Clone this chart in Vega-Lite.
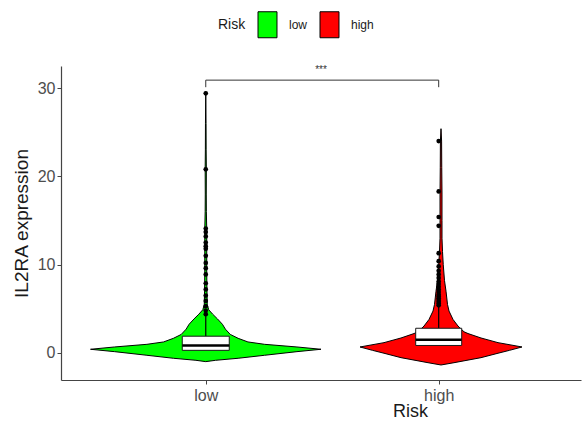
{
  "$schema": "https://vega.github.io/schema/vega-lite/v6.json",
  "background": "white",
  "padding": {"left": 12, "top": 11, "right": 5, "bottom": 5},
  "width": 520,
  "height": 314,
  "config": {
    "view": {"stroke": null},
    "font": "Liberation Sans",
    "axis": {"grid": false, "domainColor": "#444444", "domainWidth": 1.2, "tickColor": "#444444", "tickSize": 4, "labelColor": "#4d4d4d", "labelFontSize": 16, "titleFontSize": 18, "titleFontWeight": "normal", "titleColor": "#1a1a1a", "labelFont": "Liberation Sans", "titleFont": "Liberation Sans"}
  },
  "datasets": {
    "violin": [
      {"Risk": "low", "value": -0.98, "density": 0},
      {"Risk": "low", "value": -0.83, "density": 20},
      {"Risk": "low", "value": -0.6, "density": 66},
      {"Risk": "low", "value": -0.26, "density": 120},
      {"Risk": "low", "value": 0.15, "density": 186},
      {"Risk": "low", "value": 0.42, "density": 235},
      {"Risk": "low", "value": 0.68, "density": 186},
      {"Risk": "low", "value": 0.98, "density": 120},
      {"Risk": "low", "value": 1.25, "density": 86},
      {"Risk": "low", "value": 1.66, "density": 66},
      {"Risk": "low", "value": 2.1, "density": 50},
      {"Risk": "low", "value": 2.7, "density": 40},
      {"Risk": "low", "value": 3.25, "density": 34},
      {"Risk": "low", "value": 3.85, "density": 24},
      {"Risk": "low", "value": 4.4, "density": 14},
      {"Risk": "low", "value": 4.9, "density": 6},
      {"Risk": "low", "value": 5.5, "density": 3},
      {"Risk": "low", "value": 7, "density": 2.5},
      {"Risk": "low", "value": 9, "density": 2},
      {"Risk": "low", "value": 11, "density": 2},
      {"Risk": "low", "value": 13, "density": 2},
      {"Risk": "low", "value": 14, "density": 2},
      {"Risk": "low", "value": 16, "density": 1.2},
      {"Risk": "low", "value": 18, "density": 1},
      {"Risk": "low", "value": 20.8, "density": 1.2},
      {"Risk": "low", "value": 23, "density": 0.8},
      {"Risk": "low", "value": 26, "density": 0.6},
      {"Risk": "low", "value": 29.6, "density": 0},
      {"Risk": "high", "value": -1.36, "density": 0},
      {"Risk": "high", "value": -1.1, "density": 26},
      {"Risk": "high", "value": -0.53, "density": 80},
      {"Risk": "high", "value": -0.03, "density": 114},
      {"Risk": "high", "value": 0.3, "density": 137},
      {"Risk": "high", "value": 0.68, "density": 162},
      {"Risk": "high", "value": 1.17, "density": 114},
      {"Risk": "high", "value": 1.7, "density": 80},
      {"Risk": "high", "value": 2.2, "density": 54},
      {"Risk": "high", "value": 2.4, "density": 46},
      {"Risk": "high", "value": 3.05, "density": 34},
      {"Risk": "high", "value": 3.8, "density": 24},
      {"Risk": "high", "value": 4.75, "density": 16},
      {"Risk": "high", "value": 5.5, "density": 13},
      {"Risk": "high", "value": 7, "density": 10},
      {"Risk": "high", "value": 8.2, "density": 7},
      {"Risk": "high", "value": 10, "density": 4.5},
      {"Risk": "high", "value": 11.5, "density": 3},
      {"Risk": "high", "value": 13, "density": 2},
      {"Risk": "high", "value": 15, "density": 2},
      {"Risk": "high", "value": 18, "density": 2},
      {"Risk": "high", "value": 21, "density": 1.5},
      {"Risk": "high", "value": 24, "density": 1.2},
      {"Risk": "high", "value": 25.4, "density": 0}
    ],
    "box": [
      {"Risk": "low", "q1": 0.3, "median": 0.85, "q3": 1.9, "upper": 4.2},
      {"Risk": "high", "q1": 0.85, "median": 1.5, "q3": 2.8, "upper": 5.4}
    ],
    "outliers": [
      {"Risk": "low", "value": 29.4}, {"Risk": "low", "value": 20.8}, {"Risk": "low", "value": 14.1},
      {"Risk": "low", "value": 13.7}, {"Risk": "low", "value": 13.2}, {"Risk": "low", "value": 12.5},
      {"Risk": "low", "value": 12.1}, {"Risk": "low", "value": 11.8}, {"Risk": "low", "value": 11.0},
      {"Risk": "low", "value": 10.2}, {"Risk": "low", "value": 9.6}, {"Risk": "low", "value": 8.9},
      {"Risk": "low", "value": 7.9}, {"Risk": "low", "value": 7.2}, {"Risk": "low", "value": 6.5},
      {"Risk": "low", "value": 5.9}, {"Risk": "low", "value": 5.3}, {"Risk": "low", "value": 4.8},
      {"Risk": "low", "value": 4.4},
      {"Risk": "high", "value": 24.0}, {"Risk": "high", "value": 18.3}, {"Risk": "high", "value": 15.4},
      {"Risk": "high", "value": 14.4}, {"Risk": "high", "value": 11.3}, {"Risk": "high", "value": 10.4},
      {"Risk": "high", "value": 9.8}, {"Risk": "high", "value": 9.3}, {"Risk": "high", "value": 8.9},
      {"Risk": "high", "value": 8.5}, {"Risk": "high", "value": 8.1}, {"Risk": "high", "value": 7.8},
      {"Risk": "high", "value": 7.5}, {"Risk": "high", "value": 7.2}, {"Risk": "high", "value": 6.9},
      {"Risk": "high", "value": 6.6}, {"Risk": "high", "value": 6.4}, {"Risk": "high", "value": 6.2},
      {"Risk": "high", "value": 6.0}, {"Risk": "high", "value": 5.8}, {"Risk": "high", "value": 5.6},
      {"Risk": "high", "value": 5.4}
    ]
  },
  "resolve": {"scale": {"x": "independent"}, "axis": {"x": "independent"}},
  "layer": [
    {
      "data": {"name": "violin"},
      "transform": [{"filter": "datum.Risk == 'high'"}],
      "mark": {"type": "area", "orient": "horizontal", "stroke": "black", "strokeWidth": 1, "opacity": 1},
      "encoding": {
        "y": {"field": "value", "type": "quantitative", "scale": {"domain": [-3.06, 32.5], "nice": false, "zero": false},
              "axis": {"values": [0, 10, 20, 30], "title": "IL2RA expression", "titlePadding": 6, "labelPadding": 2, "titleFontSize": 19}},
        "x": {"field": "density", "type": "quantitative", "stack": "center", "scale": {"domain": [-299, 221], "nice": false, "zero": false}, "axis": null},
        "color": {"field": "Risk", "type": "nominal", "scale": {"domain": ["low", "high"], "range": ["#00FF00", "#FF0000"]},
                  "legend": {"title": "Risk", "orient": "none", "legendX": 157, "legendY": -55, "direction": "horizontal", "titleOrient": "left",
                             "titleFontSize": 14, "titleFontWeight": "normal", "titleColor": "#1a1a1a", "titleFont": "Liberation Sans",
                             "labelFontSize": 12, "labelColor": "#1a1a1a", "labelFont": "Liberation Sans",
                             "symbolType": "M-0.73,-1L0.73,-1L0.73,1L-0.73,1Z", "symbolSize": 676, "symbolStrokeColor": "#1a1a1a", "symbolStrokeWidth": 1, "symbolOpacity": 1,
                             "labelOffset": 8, "columnPadding": 8, "titlePadding": 8}}
      }
    },
    {
      "layer": [
        {
          "data": {"name": "violin"},
          "transform": [{"filter": "datum.Risk == 'low'"}],
          "mark": {"type": "area", "orient": "horizontal", "stroke": "black", "strokeWidth": 1, "opacity": 1},
          "encoding": {
            "y": {"field": "value", "type": "quantitative",
                  "axis": {"values": [0, 10, 20, 30], "title": "IL2RA expression", "titlePadding": 6, "labelPadding": 2, "titleFontSize": 19}},
            "x": {"field": "density", "type": "quantitative", "stack": "center", "scale": {"domain": [-25, 495], "nice": false, "zero": false},
                  "axis": {"values": [117.5, 355], "labelExpr": "datum.value < 200 ? 'low' : 'high'", "title": "Risk", "titleX": 349, "titlePadding": -1, "labelPadding": 3}},
            "color": {"field": "Risk", "type": "nominal"}
          }
        },
        {
          "data": {"name": "box"},
          "transform": [{"filter": "datum.Risk == 'low'"}],
          "mark": {"type": "rule", "color": "black", "strokeWidth": 1.2},
          "encoding": {"x": {"datum": 117.5}, "y": {"field": "q3", "type": "quantitative"}, "y2": {"field": "upper"}}
        },
        {
          "data": {"name": "box"},
          "transform": [{"filter": "datum.Risk == 'high'"}],
          "mark": {"type": "rule", "color": "black", "strokeWidth": 1.2},
          "encoding": {"x": {"datum": 355}, "y": {"field": "q3", "type": "quantitative"}, "y2": {"field": "upper"}}
        },
        {
          "data": {"name": "box"},
          "transform": [{"filter": "datum.Risk == 'low'"}],
          "mark": {"type": "bar", "orient": "vertical", "width": 47, "fill": "white", "stroke": "#1a1a1a", "strokeWidth": 1},
          "encoding": {"x": {"datum": 117.5}, "y": {"field": "q1", "type": "quantitative"}, "y2": {"field": "q3"}}
        },
        {
          "data": {"name": "box"},
          "transform": [{"filter": "datum.Risk == 'high'"}],
          "mark": {"type": "bar", "orient": "vertical", "width": 46, "fill": "white", "stroke": "#1a1a1a", "strokeWidth": 1},
          "encoding": {"x": {"datum": 355}, "y": {"field": "q1", "type": "quantitative"}, "y2": {"field": "q3"}}
        },
        {
          "data": {"name": "box"},
          "transform": [{"filter": "datum.Risk == 'low'"}],
          "mark": {"type": "tick", "orient": "horizontal", "size": 47, "thickness": 2.5, "color": "black", "opacity": 1},
          "encoding": {"x": {"datum": 117.5}, "y": {"field": "median", "type": "quantitative"}}
        },
        {
          "data": {"name": "box"},
          "transform": [{"filter": "datum.Risk == 'high'"}],
          "mark": {"type": "tick", "orient": "horizontal", "size": 46, "thickness": 2.5, "color": "black", "opacity": 1},
          "encoding": {"x": {"datum": 355}, "y": {"field": "median", "type": "quantitative"}}
        },
        {
          "data": {"name": "outliers"},
          "transform": [{"filter": "datum.Risk == 'low'"}],
          "mark": {"type": "point", "filled": true, "color": "black", "size": 22, "opacity": 1},
          "encoding": {"x": {"datum": 117.5}, "y": {"field": "value", "type": "quantitative"}}
        },
        {
          "data": {"name": "outliers"},
          "transform": [{"filter": "datum.Risk == 'high'"}],
          "mark": {"type": "point", "filled": true, "color": "black", "size": 22, "opacity": 1},
          "encoding": {"x": {"datum": 355}, "y": {"field": "value", "type": "quantitative"}}
        },
        {
          "data": {"values": [{}]},
          "mark": {"type": "rule", "color": "#333333", "strokeWidth": 1},
          "encoding": {"x": {"datum": 117.5}, "x2": {"datum": 355}, "y": {"datum": 30.9}}
        },
        {
          "data": {"values": [{}]},
          "mark": {"type": "rule", "color": "#333333", "strokeWidth": 1},
          "encoding": {"x": {"datum": 117.5}, "y": {"datum": 30.9}, "y2": {"datum": 30.1}}
        },
        {
          "data": {"values": [{}]},
          "mark": {"type": "rule", "color": "#333333", "strokeWidth": 1},
          "encoding": {"x": {"datum": 355}, "y": {"datum": 30.9}, "y2": {"datum": 30.1}}
        },
        {
          "data": {"values": [{"label": "***"}]},
          "mark": {"type": "text", "fontSize": 10, "color": "#333333", "baseline": "middle", "align": "center"},
          "encoding": {"x": {"datum": 235}, "y": {"datum": 32.0}, "text": {"field": "label"}}
        }
      ]
    }
  ]
}
